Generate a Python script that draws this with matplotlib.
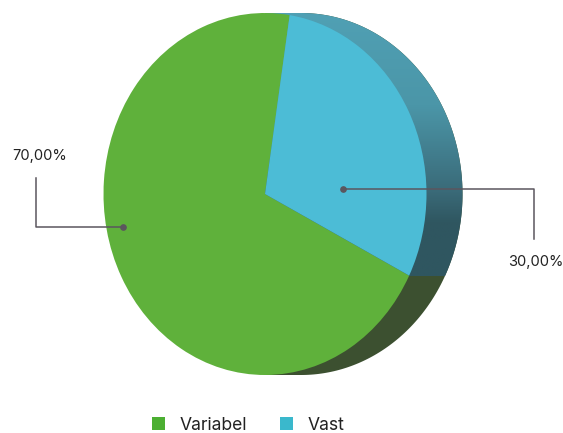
import numpy as np
import matplotlib
matplotlib.use('Agg')
import matplotlib.pyplot as plt
from matplotlib.colors import LinearSegmentedColormap
from matplotlib.patches import Patch, Polygon

plt.rcParams['font.family'] = ['Inter', 'DejaVu Sans']

labels = ['Variabel', 'Vast']
values = [70, 30]
value_labels = ['70,00%', '30,00%']
face_colors = ['#5fb13b', '#4cbcd6']
legend_colors = ['#4caf32', '#3ab8cc']

W, H = 563, 433
# pie geometry in pixels
cx, cy = 265, 194
rx, ry = 161.5, 181
depth = 36
split_y = 276

fig = plt.figure(figsize=(W / 100, H / 100), dpi=100, facecolor='white')


def pixel_axes(zorder):
    ax = fig.add_axes([0, 0, 1, 1], zorder=zorder)
    ax.axis('off')
    return ax


# extruded side behind the pie
side = pixel_axes(1)
t = np.radians(np.linspace(90, -90, 200))
edge = np.column_stack([cx + depth + rx * np.cos(t), cy - ry * np.sin(t)])
outline = np.vstack([[[cx, cy - ry]], edge, [[cx, cy + ry]]])
shape = Polygon(outline, closed=True, facecolor='#3c5030', edgecolor='none')
side.add_patch(shape)

shade = LinearSegmentedColormap.from_list(
    'shade', [(0, '#50a0b4'), (0.35, '#4b96a8'), (0.68, '#3a6a78'), (0.8, '#2f5660'), (1, '#2f5660')])
img = side.imshow(np.linspace(0, 1, 256).reshape(-1, 1), cmap=shade, aspect='auto', zorder=2,
                  extent=(cx, cx + depth + rx + 2, split_y, cy - ry))
img.set_clip_path(shape)
side.set_xlim(0, W)
side.set_ylim(H, 0)

# front face, radius 1 is stretched to the ellipse through the limits
face = pixel_axes(2)
face.pie(values, colors=face_colors, startangle=-26.8, counterclock=False,
         wedgeprops={'linewidth': 0})
face.set_aspect('auto')
face.set_xlim(-cx / rx, (W - cx) / rx)
face.set_ylim((cy - H) / ry, cy / ry)

# leader lines, labels and legend
top = pixel_axes(3)
top.set_xlim(0, W)
top.set_ylim(H, 0)
line_color = '#5b565e'
top.plot([36, 36, 123], [178, 227, 227], color=line_color, lw=1.1)
top.plot([343, 534, 534], [189, 189, 239], color=line_color, lw=1.1)
top.plot([123, 343], [227, 189], 'o', color=line_color, ms=3.8)
top.text(12, 156, value_labels[0], fontsize=10.6, color='#222222', va='center', ha='left')
top.text(508, 262, value_labels[1], fontsize=10.6, color='#222222', va='center', ha='left')

handles = [Patch(facecolor=c, edgecolor='none', label=l) for c, l in zip(legend_colors, labels)]
top.legend(handles=handles, ncol=2, frameon=False, fontsize=12.6,
           handlelength=0.743, handleheight=0.743, handletextpad=0.857, columnspacing=1.83,
           borderpad=0, borderaxespad=0, labelcolor='#222222',
           loc='center left', bbox_to_anchor=(152 / W, 1 - 425 / H))

fig.savefig('out.png', dpi=100, facecolor='white')
